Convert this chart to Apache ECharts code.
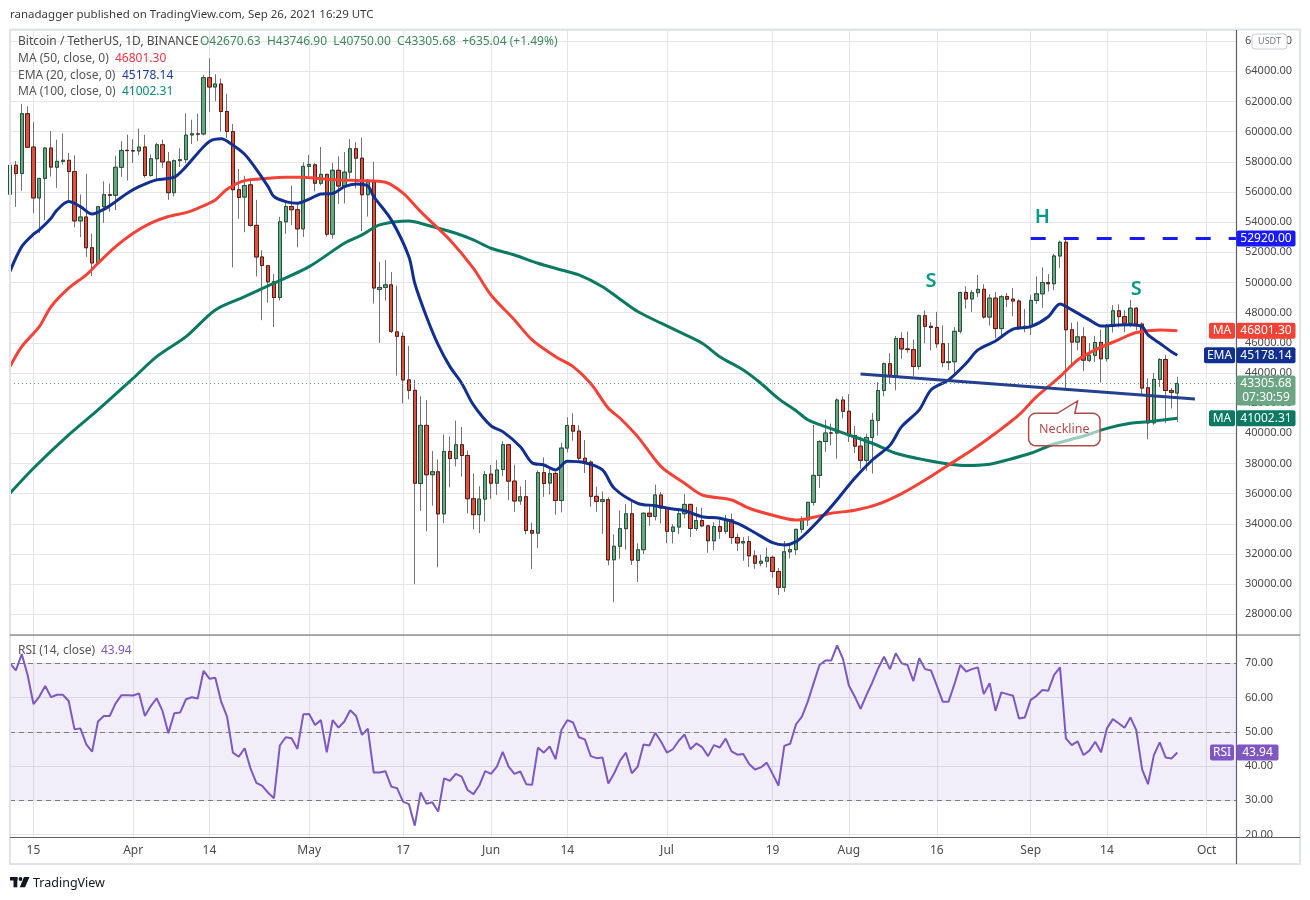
<!DOCTYPE html>
<html>
<head>
<meta charset="utf-8">
<script src="https://cdn.jsdelivr.net/npm/echarts/dist/echarts.min.js"></script>
<style>html,body{margin:0;padding:0;background:#fff;}#c{width:1310px;height:900px;}</style>
</head>
<body>
<div id="c"></div>
<script>
// ---------- DATA ----------
const startDate = [2021, 2, 11];   // 11 Mar 2021, first daily candle
const totalSlots = 210;            // categories up to 6 Oct 2021 (empty future space)

const opens = [
55851,57773,57221,61188,58976,55605,56900,58912,57641,58030,58100,57351,54083,54342,52303,51293,55025,55817,55781,57635,58761,
58740,58720,58981,57095,58202,59129,57991,55953,58077,58142,59778,59846,59846,63575,62959,63159,61334,60006,56150,55663,56471,53787,51691,51111,50047,49004,54021,55034,54825,53555,
57697,57797,56578,57169,53205,57436,56393,57315,58866,58240,55816,56670,49537,49671,49844,46727,46426,43538,42849,36672,40526,37253,37449,34655,38796,38324,39241,38529,35661,34606,35641,
37293,36694,37599,39242,36830,35517,35796,33556,33380,37389,36698,37341,35546,39021,40516,40143,38350,38092,35820,35483,35600,31614,32510,33676,34664,31577,32283,34702,34494,35911,
35045,33502,33786,34669,35288,33690,34220,33863,32875,33815,33502,34259,33086,32729,32820,31874,31384,31520,31778,30839,29790,32144,32287,33635,34262,35424,37208,39456,40020,40016,42206,
41461,39850,39146,38207,39723,40862,42836,44614,43791,46281,45594,45552,44430,47793,47097,47019,45937,44686,44742,46763,49339,48906,49322,49547,47706,48960,46942,49072,48895,48767,46970,
47100,48810,49246,49999,49918,51757,52666,46863,46048,46395,44842,45173,46026,44950,47103,48121,47738,47299,48292,47242,43016,40693,43574,44895,42839,42670.63];

const highs = [
58150,58058,61844,61683,60633,56939,58982,60040,59468,59880,58589,58430,55830,57200,53235,55073,56700,56559,58405,59368,59800,
59490,60200,59791,58493,59257,59475,58650,58153,58894,61217,60790,61199,63774,64854,63800,63520,62506,60499,57526,57076,56757,55477,52130,51167,50555,54356,55400,56428,55196,57963,
58458,57911,58981,57200,57937,58360,58650,59500,59300,59594,56862,58000,51367,51483,50700,49800,46686,45800,43546,42451,42200,38832,38271,39920,39791,40841,40412,38856,37338,36488,37499,
37896,38225,39476,39289,37925,36480,36900,34068,37534,38400,37690,37436,39380,41064,41330,40527,39560,38202,36457,36137,35750,33298,34881,35298,35500,32700,34749,35297,36600,36100,
35057,33977,34945,35967,35293,35118,35059,33929,34100,34262,34592,34679,33340,33114,33185,32249,31949,32435,31899,31063,32859,32591,33650,34500,35398,40550,39543,40900,40640,42316,42448,
42599,40480,39780,39969,41350,43392,44700,45310,46456,46700,46743,46218,47886,48144,47372,48053,47160,46000,47033,49382,49757,49500,50500,49875,49226,49368,49165,49309,49632,48888,48246,
49156,50400,51000,50558,51900,52780,52920,47340,47399,47033,45987,46460,46876,47250,48500,48557,48163,48843,48372,47347,43639,44000,44978,45200,42998,43746.90];

const lows = [
54270,55013,56078,58963,54600,53271,54123,57023,56270,57820,55450,53650,53000,51700,50427,51225,53950,54691,54800,57000,56769,
57935,58428,56956,57013,56800,57600,55473,55700,57654,57900,59177,59368,59750,61301,62020,60000,59580,51000,54221,53329,53695,50400,47500,48657,47044,48800,53222,53813,52330,53013,
57052,56035,56435,53046,52900,55200,55241,56900,56235,53400,54370,48600,46000,48800,46650,43825,42001,42250,30000,34850,33488,35200,31111,34031,36419,37800,37134,34684,33632,33379,34154,
35666,35920,37170,35567,34800,35258,33300,31000,32396,35782,35944,34600,34757,38730,39506,38116,37365,35129,34803,33336,31251,28805,31683,32286,31275,30151,32000,33862,34225,34017,
32711,32699,33316,34357,33125,33532,33777,32077,32261,33005,33330,32658,32202,31550,31133,31020,31180,31108,30407,29278,29482,31708,31924,33401,33851,35205,36383,38772,39200,38313,41000,
39422,38690,37642,37508,37332,39853,42450,43261,42848,44942,45342,43770,44217,45971,45500,45660,44376,44203,43955,46628,48273,48050,49029,47600,47138,46315,46371,48370,47762,46853,46700,
46512,48584,48316,49400,49500,50969,42843,44412,45514,44132,44722,44742,43370,44750,46682,47021,46699,47033,46829,42500,39600,40565,43069,40675,41646,40750];

const closes = [
57773,57221,61188,58968,55605,56900,58912,57648,58030,58102,57351,54083,54340,52303,51293,55025,55817,55777,57635,58746,58740,
58720,58981,57095,58202,59129,57991,55953,58077,58142,59769,59860,59838,63575,62960,63159,61334,60006,56150,55633,56425,53787,51690,51125,50047,49004,54021,55034,54824,53555,57697,
57828,56578,57169,53200,57436,56393,57314,58862,58240,55816,56670,49631,49671,49841,46762,46431,43538,42849,36690,40526,37252,37449,34655,38796,38324,39241,38529,35663,34605,35641,37253,
36693,37568,39246,36829,35513,35796,33552,33380,37388,36675,37331,35546,39020,40516,40144,38349,38092,35819,35483,35600,31608,32509,33678,34663,31594,32275,34700,34494,35911,35045,
33504,33786,34669,35287,33690,34220,33862,32875,33815,33502,34259,33086,32729,32820,31880,31383,31520,31778,30839,29790,32144,32287,33634,34258,35425,37208,39456,40019,40016,42206,41461,
39845,39147,38207,39723,40862,42836,44614,43792,46285,45593,45551,44428,47793,47096,47019,45937,44686,44741,46762,49339,48905,49321,49546,47706,48960,46942,49058,48895,48767,46970,47100,
48810,49246,49999,49915,51756,52663,46863,46049,46395,44850,45173,46025,44940,47111,48122,47737,47299,48292,47241,42998,40693,43574,44895,42839,42716,43305.68];

// EMA(20) read at sampled days (day index from 11 Mar)
const emaDays = [0,2,4,5,7,8,10,12,14,16,18,20,22,25,28,30,32,34,36,38,40,42,44,45,47,49,51,53,55,57,59,61,62,65,68,69,71,73,75,77,79,82,84,87,89,91,93,95,98,101,103,107,110,113,115,118,121,124,127,130,132,134,136,139,141,144,147,150,152,155,157,160,163,165,168,171,174,177,179,181,184,186,189,191,193,194,196,198,199];
const emaVals = [50740,52375,53200,53480,54260,54800,55360,55030,54540,54850,55360,55920,56350,56800,56980,57680,58570,59350,59520,59100,58500,57500,56350,55700,55360,55250,55520,55870,55900,56350,56530,56400,55700,54150,51710,49950,47730,45860,44420,43320,41880,40490,40110,39110,38050,37900,37570,38150,38050,37570,36355,35360,35200,34980,34870,34470,34365,34030,33410,32750,32595,32815,33480,34700,35600,37020,38230,39200,40440,41550,42870,43540,44640,45530,46120,46900,47070,47730,48580,48180,47520,47120,47180,47200,47070,46520,45970,45410,45178.14];

// MA(50)
const ma50Days = [0,2,5,7,10,13,15,18,21,24,27,30,32,35,37,40,44,47,50,52,56,60,64,67,70,75,79,82,86,89,93,96,99,102,104,107,111,115,118,123,126,131,134,137,140,144,148,152,156,160,164,168,172,175,179,182,185,189,192,196,199];
const ma50Vals = [44420,45750,47070,48400,49620,50500,51275,52375,53265,53930,54370,54630,54920,55470,56180,56750,56910,56980,56980,56910,56800,56750,56640,55920,54700,52820,50940,49170,47515,46190,45080,44420,43300,41660,41000,39780,37790,36690,35910,35580,35030,34470,34250,34430,34700,34900,35300,36000,36900,37900,38890,40000,41215,42430,43760,44860,45530,46200,46680,46850,46801.30];

// MA(100)
const ma100Days = [0,4,10,15,21,25,30,35,40,45,51,57,60,63,68,71,76,79,82,86,90,94,97,101,104,107,111,114,118,121,125,128,131,134,136,139,143,147,151,156,160,163,167,170,174,178,183,187,191,194,199];
const ma100Vals = [36020,37680,39890,41550,43650,45080,46410,48180,49060,49950,51050,52600,53150,53815,54080,53815,53265,52820,52270,51820,51275,50830,50500,49720,48890,48070,47300,46740,45970,45080,44200,43320,42300,41500,40900,40440,39890,39340,38680,38230,37970,37860,37950,38230,38680,39290,39820,40330,40660,40770,41002.31];

// RSI(14, close), one value per day
const rsi = [
70.0,67.9,72.7,66.6,58.1,60.3,63.4,60.1,60.8,60.8,
59.0,50.7,51.0,46.3,44.2,53.0,54.6,54.6,58.3,60.7,
60.7,60.6,61.2,54.6,57.5,59.8,56.1,49.6,55.4,55.6,
59.5,60.1,59.7,67.8,65.5,65.8,58.8,54.4,43.9,42.7,
45.2,39.3,35.1,34.2,32.2,30.6,46.0,48.4,48.1,45.0,
55.1,55.2,52.0,53.4,44.0,53.4,51.2,53.0,56.3,54.6,
49.1,50.9,38.1,38.1,38.5,34.0,33.5,29.6,28.9,22.6,
32.3,29.0,29.4,26.7,36.4,35.7,37.7,36.9,33.0,31.8,
34.3,38.5,37.7,39.8,44.1,39.8,37.7,38.4,34.7,34.5,
45.4,43.9,45.7,42.0,50.5,53.4,52.7,48.4,47.8,42.9,
42.3,42.5,34.9,37.9,41.6,43.9,37.9,39.8,46.3,46.0,
49.7,47.1,43.9,44.9,47.4,49.2,44.9,46.6,45.5,42.9,
46.1,45.4,48.0,44.3,43.3,43.5,40.6,39.0,39.6,41.0,
37.7,34.3,45.9,46.5,52.2,54.4,58.8,64.2,69.5,70.8,
70.8,75.2,71.3,63.5,60.3,56.7,60.7,64.4,68.5,71.9,
68.3,72.9,70.0,69.5,64.8,71.5,68.3,67.9,63.5,58.8,
58.8,63.9,69.5,67.6,68.3,68.8,61.0,64.2,56.1,61.5,
61.0,60.5,53.9,54.2,59.3,60.5,62.2,62.0,66.6,68.8,
48.1,46.1,47.2,43.2,44.5,47.1,44.0,51.0,53.7,52.5,
51.2,54.2,50.5,39.0,34.7,43.2,46.9,42.5,42.2,43.94];

// Tick labels on the time axis
const tickDates  = ['2021-03-15','2021-04-01','2021-04-14','2021-05-01','2021-05-17','2021-06-01','2021-06-14','2021-07-01','2021-07-19','2021-08-01','2021-08-16','2021-09-01','2021-09-14','2021-10-01'];
const tickLabels = ['15','Apr','14','May','17','Jun','14','Jul','19','Aug','16','Sep','14','Oct'];

// Annotation values
const lastPrice = 43305.68, lastMA50 = 46801.30, lastEMA = 45178.14, lastMA100 = 41002.31, lastRSI = 43.94;
const headLevel = 52920;
const necklineStart = [145, 43935], necklineEnd = [202, 42270];

// ---------- BUILD ----------
const dates = [];
for (let i = 0; i < totalSlots; i++) {
  dates.push(new Date(Date.UTC(startDate[0], startDate[1], startDate[2] + i)).toISOString().slice(0, 10));
}
const isTick = (idx, val) => tickDates.indexOf(val) >= 0;
const wickData = opens.map((o, i) => [o, closes[i], lows[i], highs[i]]);
const bodyData = opens.map((o, i) => [o, closes[i], Math.min(o, closes[i]), Math.max(o, closes[i])]);
const pairs = (ds, vs) => ds.map((d, i) => [dates[d], vs[i]]);

const FONT = '"Noto Sans", "DejaVu Sans", sans-serif';
const GRID_COLOR = '#e6e6e6';
const chart = echarts.init(document.getElementById('c'), null, {renderer: 'canvas'});

const option = {
  animation: false,
  backgroundColor: '#ffffff',
  textStyle: {fontFamily: FONT},
  grid: [
    {left: 10, right: 74, top: 30, height: 605},
    {left: 10, right: 74, top: 635, height: 202}
  ],
  xAxis: [
    {type: 'category', gridIndex: 0, data: dates, boundaryGap: false,
     axisLine: {show: false}, axisTick: {show: false}, axisLabel: {show: false},
     splitLine: {show: true, interval: isTick, lineStyle: {color: GRID_COLOR, width: 1}}},
    {type: 'category', gridIndex: 1, data: dates, boundaryGap: false,
     axisLine: {show: false}, axisTick: {show: false},
     axisLabel: {show: true, interval: isTick, formatter: v => tickLabels[tickDates.indexOf(v)] || '',
                 color: '#4a4a4a', fontSize: 12, fontFamily: FONT, margin: 8},
     splitLine: {show: true, interval: isTick, lineStyle: {color: GRID_COLOR, width: 1}}}
  ],
  yAxis: [
    {type: 'value', gridIndex: 0, position: 'right', min: 26628, max: 66738,
     minInterval: 2000, maxInterval: 2000, splitNumber: 20, scale: true,
     axisLine: {show: false}, axisTick: {show: false},
     axisLabel: {formatter: v => v.toFixed(2), color: '#4a4a4a', fontSize: 11, fontFamily: FONT, margin: 9,
                 showMinLabel: false, showMaxLabel: false},
     splitLine: {lineStyle: {color: GRID_COLOR, width: 1}}},
    {type: 'value', gridIndex: 1, position: 'right', min: 19.28, max: 78.26,
     minInterval: 10, maxInterval: 10, splitNumber: 6, scale: true,
     axisLine: {show: false}, axisTick: {show: false},
     axisLabel: {formatter: v => v.toFixed(2), color: '#4a4a4a', fontSize: 11, fontFamily: FONT, margin: 9,
                 showMinLabel: false, showMaxLabel: false},
     splitLine: {lineStyle: {color: GRID_COLOR, width: 1}}}
  ],
  series: [
    {name: 'wicks', type: 'candlestick', xAxisIndex: 0, yAxisIndex: 0, data: wickData, barWidth: 3.8,
     itemStyle: {color: '#737375', color0: '#737375', borderColor: '#737375', borderColor0: '#737375', borderWidth: 1},
     silent: true, z: 2},
    {name: 'BTCUSDT', type: 'candlestick', xAxisIndex: 0, yAxisIndex: 0, data: bodyData, barWidth: 3.8,
     itemStyle: {color: '#6ba583', color0: '#d75442', borderColor: '#225437', borderColor0: '#5b1a13', borderWidth: 1},
     silent: true, z: 3,
     markLine: {silent: true, symbol: ['none', 'none'], label: {show: false}, animation: false,
       data: [
         {yAxis: lastPrice, lineStyle: {type: [1, 3], color: '#5a9e74', width: 1}},
         [{coord: [dates[necklineStart[0]], necklineStart[1]]}, {coord: [dates[necklineEnd[0]], necklineEnd[1]], lineStyle: {color: '#24408e', width: 3, type: 'solid'}}],
         [{coord: [dates[174], headLevel]}, {coord: [dates[totalSlots - 1], headLevel], lineStyle: {color: '#1a1aff', width: 3, type: [15, 18]}}]
       ]}},
    {name: 'MA100', type: 'line', xAxisIndex: 0, yAxisIndex: 0, data: pairs(ma100Days, ma100Vals),
     showSymbol: false, smooth: 0.3, lineStyle: {color: '#0a7a63', width: 3}, silent: true, z: 4},
    {name: 'MA50', type: 'line', xAxisIndex: 0, yAxisIndex: 0, data: pairs(ma50Days, ma50Vals),
     showSymbol: false, smooth: 0.3, lineStyle: {color: '#f44336', width: 3}, silent: true, z: 4},
    {name: 'EMA20', type: 'line', xAxisIndex: 0, yAxisIndex: 0, data: pairs(emaDays, emaVals),
     showSymbol: false, smooth: 0.3, lineStyle: {color: '#12308f', width: 3}, silent: true, z: 4},
    {name: 'RSI', type: 'line', xAxisIndex: 1, yAxisIndex: 1, data: rsi.map((v, i) => [dates[i], v]),
     showSymbol: false, lineStyle: {color: '#7e57c2', width: 2}, silent: true, z: 4,
     markArea: {silent: true, itemStyle: {color: 'rgba(126,87,194,0.10)'}, data: [[{yAxis: 30}, {yAxis: 70}]]},
     markLine: {silent: true, symbol: ['none', 'none'], label: {show: false}, animation: false,
       lineStyle: {color: '#787b86', type: [5, 4], width: 1},
       data: [{yAxis: 70}, {yAxis: 50}, {yAxis: 30}]}}
  ]
};
chart.setOption(option);

// ---------- OVERLAY TEXT / BADGES ----------
const yP = v => chart.convertToPixel({yAxisIndex: 0}, v);
const yR = v => chart.convertToPixel({yAxisIndex: 1}, v);
const pt = (d, v) => chart.convertToPixel({xAxisIndex: 0, yAxisIndex: 0}, [dates[d], v]);

const g = [];
function txt(x, y, text, fill, font, align, z) {
  g.push({type: 'text', z: z || 100, silent: true,
    style: {x: x, y: y, text: text, fill: fill, font: font,
            align: align || 'left', textAlign: align || 'left', verticalAlign: 'middle', textVerticalAlign: 'middle'}});
}
function rect(x, y, w, h, fill, r, stroke, z) {
  g.push({type: 'rect', z: z || 100, silent: true, shape: {x: x, y: y, width: w, height: h, r: r || 0},
    style: {fill: fill, stroke: stroke || null, lineWidth: stroke ? 1 : 0}});
}
function line(x1, y1, x2, y2, color, w) {
  g.push({type: 'line', z: 90, silent: true, shape: {x1: x1, y1: y1, x2: x2, y2: y2}, style: {stroke: color, lineWidth: w}});
}

// frame and separators
g.push({type: 'rect', z: 90, silent: true, shape: {x: 10, y: 29.5, width: 1290, height: 834.5},
        style: {fill: 'none', stroke: '#e0e3eb', lineWidth: 2}});
line(10, 635, 1300, 635, '#5d606b', 1.2);
line(10, 837.5, 1300, 837.5, '#5d606b', 1.2);
line(1236.5, 30, 1236.5, 864, '#5d606b', 1.2);

// header & legends
txt(10, 15, 'ranadagger published on TradingView.com, Sep 26, 2021 16:29 UTC', '#3b3b3b', '11.5px ' + FONT);
txt(18, 42, 'Bitcoin / TetherUS, 1D, BINANCE', '#4a4a4a', '12px ' + FONT);
txt(200, 42, 'O42670.63  H43746.90  L40750.00  C43305.68  +635.04 (+1.49%)', '#3f8a5f', '12px ' + FONT);
txt(18, 59, 'MA (50, close, 0)', '#555555', '12px ' + FONT);
txt(115, 59, '46801.30', '#f23645', '12px ' + FONT);
txt(18, 76, 'EMA (20, close, 0)', '#555555', '12px ' + FONT);
txt(122, 76, '45178.14', '#1f3c9e', '12px ' + FONT);
txt(18, 92, 'MA (100, close, 0)', '#555555', '12px ' + FONT);
txt(122, 92, '41002.31', '#0a8a70', '12px ' + FONT);
txt(18, 651, 'RSI (14, close)', '#555555', '12px ' + FONT);
txt(101, 651, '43.94', '#7e57c2', '12px ' + FONT);

// USDT badge
rect(1252, 34, 35, 15, '#ffffff', 3, '#c9cbd1', 110);
txt(1269.5, 41.5, 'USDT', '#787b86', '9px ' + FONT, 'center', 111);

// price-scale badges
function badge(xl, wl, labelL, yc, valueText, color, wr) {
  if (labelL) { rect(xl, yc - 8, wl, 16, color, 2, null, 110); txt(xl + wl / 2, yc, labelL, '#ffffff', '12px ' + FONT, 'center', 111); }
  rect(1236.5, yc - 8, wr || 59, 16, color, 2, null, 110);
  txt(1236.5 + (wr || 59) / 2, yc, valueText, '#ffffff', '12px ' + FONT, 'center', 111);
}
badge(1209, 26, 'MA', yP(lastMA50), lastMA50.toFixed(2), '#f44336');
badge(1204, 31, 'EMA', yP(lastEMA), lastEMA.toFixed(2), '#12308f');
badge(1209, 26, 'MA', yP(lastMA100), lastMA100.toFixed(2), '#0a7a63');
badge(null, 0, null, yP(headLevel), headLevel.toFixed(2), '#1a1aff');
// last price badge (two lines)
(function () {
  const yc = yP(lastPrice);
  rect(1236.5, yc - 8, 59, 30, '#6ba583', 2, null, 110);
  txt(1266, yc, lastPrice.toFixed(2), '#ffffff', '12px ' + FONT, 'center', 111);
  txt(1266, yc + 14, '07:30:59', '#ffffff', '12px ' + FONT, 'center', 111);
})();
// RSI badge
(function () {
  const yc = yR(lastRSI);
  rect(1210, yc - 8, 24, 16, '#7e57c2', 2, null, 110);
  txt(1222, yc, 'RSI', '#ffffff', '12px ' + FONT, 'center', 111);
  rect(1236.5, yc - 8, 42, 16, '#7e57c2', 2, null, 110);
  txt(1257.5, yc, lastRSI.toFixed(2), '#ffffff', '12px ' + FONT, 'center', 111);
})();

// H / S / S labels
(function () {
  const teal = '#0a9a88';
  const f = '600 20px ' + FONT;
  let p = pt(176, 54345); txt(p[0], p[1], 'H', teal, f, 'center', 105);
  p = pt(157, 50100); txt(p[0], p[1], 'S', teal, f, 'center', 105);
  p = pt(192, 49570); txt(p[0], p[1], 'S', teal, f, 'center', 105);
})();

// Neckline callout anchored on the neckline (rounded box with a pointer, as a polygon)
(function () {
  const tip = pt(182, 42144);
  const tx = tip[0], ty = tip[1];
  const L = tx - 49, R = tx + 22.4, T = ty + 12.4, B = ty + 44.7, r = 7;
  const pts = [];
  const arc = (cx, cy, a0, a1) => {
    for (let k = 0; k <= 6; k++) {
      const a = (a0 + (a1 - a0) * k / 6) * Math.PI / 180;
      pts.push([cx + r * Math.cos(a), cy + r * Math.sin(a)]);
    }
  };
  arc(L + r, T + r, 180, 270);
  pts.push([tx - 20.3, T], [tx, ty], [tx - 2.8, T]);
  arc(R - r, T + r, 270, 360);
  arc(R - r, B - r, 0, 90);
  arc(L + r, B - r, 90, 180);
  g.push({type: 'polygon', z: 106, silent: true, shape: {points: pts},
          style: {fill: 'rgba(255,255,255,0.6)', stroke: '#b44b4b', lineWidth: 1.5}});
  txt((L + R) / 2, (T + B) / 2, 'Neckline', '#b44b4b', '12.5px ' + FONT, 'center', 107);
})();

// TradingView footer logo
rect(10, 877, 7.5, 3.5, '#131722', 0, null, 100);
rect(13.5, 877, 3.8, 10.3, '#131722', 0, null, 100);
g.push({type: 'circle', z: 100, silent: true, shape: {cx: 20.5, cy: 879, r: 1.9}, style: {fill: '#131722'}});
g.push({type: 'polygon', z: 100, silent: true, shape: {points: [[24, 877], [29.5, 877], [25, 887.3], [19.8, 887.3]]}, style: {fill: '#131722'}});
txt(33, 883, 'TradingView', '#131722', '12.5px ' + FONT);

chart.setOption({graphic: {elements: g}});
</script>
</body>
</html>
